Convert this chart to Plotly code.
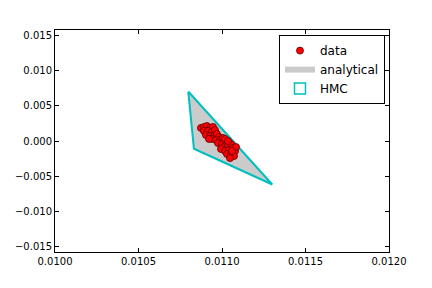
import plotly.graph_objects as go

# sampled points (red dots)
data_x = [0.010874, 0.010892, 0.010910, 0.010928, 0.010946, 0.010892, 0.010916, 0.010940,
          0.010958, 0.010904, 0.010928, 0.010952, 0.010970, 0.010982, 0.010940, 0.010964,
          0.010988, 0.011006, 0.010976, 0.011000, 0.011024, 0.011012, 0.011036, 0.011054,
          0.010994, 0.011018, 0.011042, 0.011066, 0.011078, 0.011030, 0.011054, 0.011072,
          0.011048, 0.011084, 0.010922, 0.011018, 0.011036, 0.011060]
data_y = [0.00186, 0.00200, 0.00214, 0.00186, 0.00200, 0.00143, 0.00143, 0.00129,
          0.00157, 0.00086, 0.00071, 0.00071, 0.00100, 0.00057, 0.00029, 0.00014,
          0.00014, 0.00043, -0.00029, -0.00043, -0.00014, -0.00086, -0.00071, -0.00043,
          -0.00114, -0.00143, -0.00129, -0.00100, -0.00143, -0.00186, -0.00186, -0.00214,
          -0.00243, -0.00086, 0.00029, 0.00029, 0.00000, -0.00143]

# analytical region (grey) and HMC region (cyan outline)
analytical_x = [0.010800, 0.010834, 0.011298, 0.010800]
analytical_y = [0.00700, -0.00110, -0.00617, 0.00700]
hmc_x = [0.010798, 0.010832, 0.011301, 0.010798]
hmc_y = [0.00704, -0.00110, -0.00619, 0.00704]

xticks = [0.0100, 0.0105, 0.0110, 0.0115, 0.0120]
yticks = [-0.015, -0.010, -0.005, 0.000, 0.005, 0.010, 0.015]

grey = "#cbcbcb"
cyan = "#00bfbf"

fig = go.Figure()

fig.add_trace(go.Scatter(
    x=analytical_x, y=analytical_y, mode="none", name="analytical",
    fill="toself", fillcolor=grey, legendrank=2,
))
fig.add_trace(go.Scatter(
    x=hmc_x, y=hmc_y, mode="lines", name="HMC", showlegend=False,
    line=dict(color=cyan, width=2),
))
# legend entry for HMC: open rectangle
fig.add_trace(go.Scatter(
    x=[None], y=[None], mode="markers", name="HMC", legendrank=3,
    marker=dict(symbol="square-open", size=11, color=cyan, line=dict(width=1.5)),
))
fig.add_trace(go.Scatter(
    x=data_x, y=data_y, mode="markers", name="data", legendrank=1,
    marker=dict(color="red", size=7, line=dict(color="#5a0000", width=0.8)),
))

axis_common = dict(
    showgrid=False, zeroline=False, showline=True, linecolor="black", linewidth=1,
    mirror="allticks", ticks="inside", ticklen=4, tickcolor="black", automargin=False,
    tickfont=dict(family="DejaVu Sans", size=10, color="black"),
)

# page body has an 8px margin, so the margins are shifted by that amount
fig.update_layout(
    width=432, height=288,
    margin=dict(l=47, r=51, t=22, b=44),
    paper_bgcolor="white", plot_bgcolor="white",
    xaxis=dict(range=[0.0100, 0.0120], tickvals=xticks,
               ticktext=[f"{v:.4f}" for v in xticks], **axis_common),
    yaxis=dict(range=[-0.0158, 0.0158], tickvals=yticks,
               ticktext=[f"{v:.3f}".replace("-", "\u2212") if v != 0 else "0.000" for v in yticks],
               **axis_common),
    legend=dict(
        x=0.988, y=0.977, xanchor="right", yanchor="top",
        bgcolor="white", bordercolor="black", borderwidth=1,
        font=dict(family="DejaVu Sans", size=12, color="black"),
        tracegroupgap=0, itemwidth=30,
    ),
    showlegend=True,
)

fig.write_html("out.html")
